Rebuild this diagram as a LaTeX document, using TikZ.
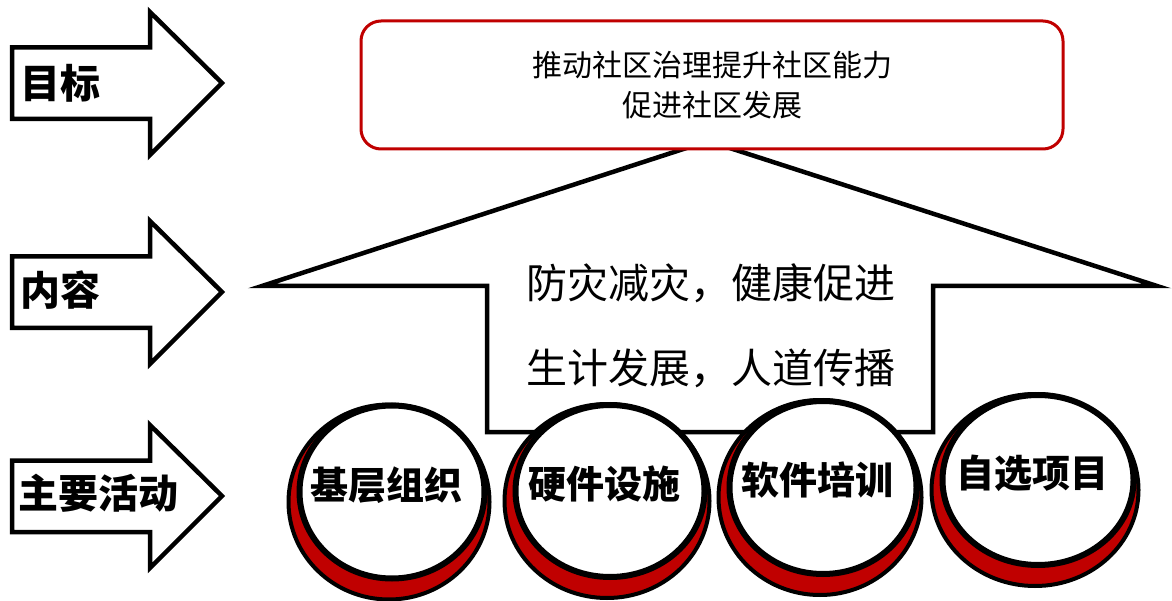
\documentclass[tikz,border=0pt]{standalone}
\usepackage{fontspec}
\setmainfont{Noto Sans CJK SC}
\usetikzlibrary{shapes.geometric}
\definecolor{redc}{HTML}{C00000}
\tikzset{
  lblarrow/.style={draw=black, line width=4.5pt, fill=white, line join=miter},
  armlabel/.style={anchor=west, inner sep=0pt, font=\fontsize{40}{44}\selectfont\bfseries},
  pent/.style={draw=black, line width=4.5pt, fill=white, line join=miter, miter limit=20},
  goalbox/.style={draw=redc, line width=3pt, fill=white, rounded corners=20pt,
    minimum width=702pt, minimum height=128pt, align=center,
    font=\fontsize{30}{40}\selectfont},
  content/.style={align=center, inner sep=0pt, font=\fontsize{41}{85}\selectfont},
  backring/.style={ellipse, draw=black, line width=4pt, fill=redc, inner sep=0pt},
  frontring/.style={ellipse, draw=black, line width=6pt, fill=white, inner sep=0pt},
  actlabel/.style={inner sep=0pt, font=\fontsize{38}{40}\selectfont\bfseries}
}
\newcommand{\mkarrow}[1]{%
  \draw[lblarrow] (12,#1-35.5) -- (150,#1-35.5) -- (150,#1-71) -- (222,#1) -- (150,#1+72) -- (150,#1+36) -- (12,#1+36) -- cycle;}
\newcommand{\mkring}[6]{% name, cx, cy, rx, ry, text
  \node[backring, minimum width={2*(#4+5)}, minimum height={2*(#5+8)}] (#1b) at (#2-3,#3+10) {};
  \node[frontring, minimum width={2*(#4-3)}, minimum height={2*(#5-3)}] (#1) at (#2,#3) {};
  \node[actlabel] (#1t) at (#2-6,#3-7) {#6};}
\begin{document}
\begin{tikzpicture}[x=1pt,y=-1pt]
\useasboundingbox (0,0) rectangle (1172,601);
% left arrows
\mkarrow{83}
\mkarrow{292}
\mkarrow{496}
\node[armlabel] (lgoal) at (20,83) {目标};
\node[armlabel] (lcont) at (20,290) {内容};
\node[armlabel] (lact) at (18,493) {主要活动};
% house shape
\draw[pent] (262,286) -- (708,141) -- (1157,286) -- (933,286) -- (933,432) -- (487,432) -- (487,286) -- cycle;
% goal box
\node[goalbox] (goal) at (712,85) {推动社区治理提升社区能力\\促进社区发展};
% content text
\node[content] (cont) at (711,326) {防灾减灾，健康促进\\生计发展，人道传播};
% rings
\mkring{ra}{392}{492}{95.5}{89.5}{基层组织}
\mkring{rb}{610}{491}{97.5}{89}{硬件设施}
\mkring{rc}{823}{487.5}{96.5}{89.5}{软件培训}
\mkring{rd}{1038}{480}{98.5}{88}{自选项目}
\end{tikzpicture}
\end{document}
